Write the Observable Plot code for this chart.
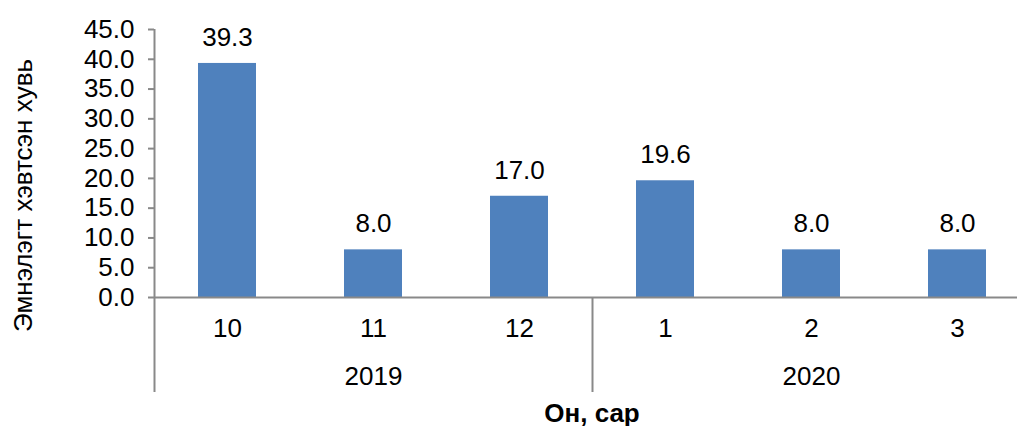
<!DOCTYPE html>
<html>
<head>
<meta charset="utf-8">
<script src="https://cdn.jsdelivr.net/npm/d3@7"></script>
<script src="https://cdn.jsdelivr.net/npm/@observablehq/plot@0.6"></script>
<style>
  html, body { margin: 0; padding: 0; background: #fff; overflow: hidden; }
  svg { font-family: "Liberation Sans", Arial, sans-serif; }
</style>
</head>
<body>
<div id="chart"></div>
<script>
const years = ["2019", "2019", "2019", "2020", "2020", "2020"];
const months = ["10", "11", "12", "1", "2", "3"];
const values = [39.3, 8.0, 17.0, 19.6, 8.0, 8.0];
const yTicks = [0, 5, 10, 15, 20, 25, 30, 35, 40, 45];
const yTitle = "Эмнэлэгт хэвтсэн хувь";
const xTitle = "Он, сар";

const data = months.map((m, i) => ({key: years[i] + "-" + m, year: years[i], month: m, value: values[i]}));
const keys = data.map(d => d.key);

// year group labels centered on the middle month of each year
const yearGroups = d3.groups(data, d => d.year).map(([year, rows]) => ({year, key: rows[Math.floor(rows.length / 2)].key, first: rows[0].key}));

const W = 1017, H = 426;
const xRange = [154, 1030];
const step = (xRange[1] - xRange[0]) / keys.length;
const axisGray = "#898989";
const barColor = "#4F81BD";
const fs = 26;

const plot = Plot.plot({
  width: W,
  height: H,
  marginLeft: 154,
  marginRight: 0,
  marginTop: 29,
  marginBottom: 129,
  style: {fontFamily: "Liberation Sans, Arial, sans-serif", fontSize: fs + "px", background: "#fff", overflow: "hidden"},
  x: {type: "band", domain: keys, range: xRange, paddingInner: 0.6, paddingOuter: 0.3, axis: null},
  y: {domain: [0, 45], axis: null},
  marks: [
    Plot.barY(data, {x: "key", y: "value", fill: barColor}),
    Plot.axisY({
      ticks: yTicks,
      tickFormat: d => d.toFixed(1),
      tickSize: 6,
      tickPadding: 14,
      stroke: axisGray,
      strokeWidth: 2,
      fill: "#000",
      fontSize: fs,
      label: null
    }),
    Plot.ruleY([0], {stroke: axisGray, strokeWidth: 2}),
    // left axis line extending into the category area
    Plot.ruleX([keys[0]], {dx: -step / 2, stroke: axisGray, strokeWidth: 2, insetBottom: -95}),
    // year separators
    Plot.ruleX(yearGroups.slice(1), {x: "first", dx: -step / 2, stroke: axisGray, strokeWidth: 2, insetTop: 268, insetBottom: -95}),
    Plot.text(data, {x: "key", y: "value", text: d => d.value.toFixed(1), dy: -26, fill: "#000", fontSize: fs}),
    Plot.text(data, {x: "key", frameAnchor: "bottom", lineAnchor: "middle", text: "month", dy: 31, fill: "#000", fontSize: fs}),
    Plot.text(yearGroups, {x: "key", frameAnchor: "bottom", lineAnchor: "middle", text: "year", dy: 79, fill: "#000", fontSize: fs}),
    Plot.text([xTitle], {frameAnchor: "bottom", lineAnchor: "middle", text: d => d, dx: 6, dy: 116, fontWeight: "bold", fill: "#000", fontSize: fs}),
    Plot.text([yTitle], {frameAnchor: "left", textAnchor: "middle", lineAnchor: "middle", text: d => d, rotate: -90, dx: -131, dy: 32, fill: "#000", fontSize: fs})
  ]
});
document.getElementById("chart").appendChild(plot);
</script>
</body>
</html>
